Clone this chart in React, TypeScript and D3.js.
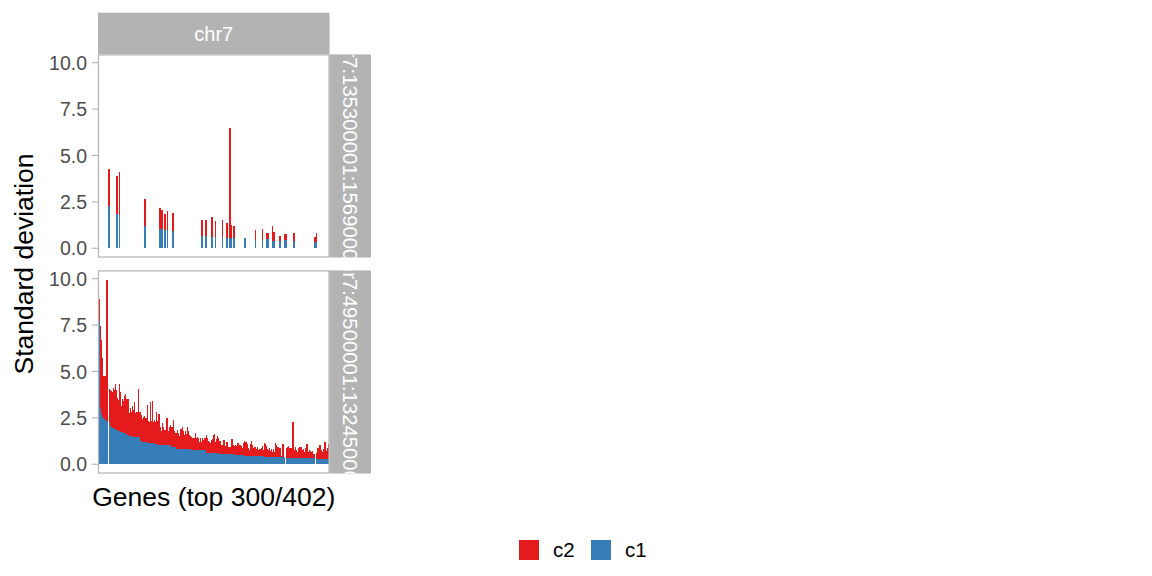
import * as d3 from "d3";

const W = 1152;
const H = 576;

// facet labels
const colLabel = "chr7";
const rowLabels = ["chr7:135300001:156900000", "chr7:49500001:132450000"];
const seriesKeys = ["c1", "c2"];
const legendKeys = ["c2", "c1"];
const yTicks = [0, 2.5, 5, 7.5, 10];

// lower facet, one entry per ranked gene
const lowerC1 = [
  7.7, 7.7, 3.02, 2.7, 2.57, 2.48, 2.43, 2.37, 2.35, 2.35,
  0, 2.21, 2.07, 2.03, 1.94, 1.94, 1.9, 1.9, 1.85, 1.85,
  1.8, 1.8, 1.76, 1.76, 1.73, 1.71, 1.69, 1.67, 1.65, 1.6,
  1.53, 1.5, 1.5, 1.5, 1.5, 1.48, 1.48, 1.47, 1.46, 1.45,
  1.45, 1.45, 1.31, 1.22, 1.22, 1.22, 1.19, 1.19, 1.19, 1.17,
  1.17, 1.17, 1.17, 1.15, 1.15, 1.13, 1.1, 1.1, 1.1, 1.08,
  1.04, 1.04, 1.04, 1.04, 1.04, 1.04, 1.04, 1.04, 1.04, 1.04,
  1.04, 1.04, 1.04, 0.95, 0.95, 0.95, 0.95, 0.95, 0.84, 0.84,
  0.84, 0.84, 0.84, 0.84, 0.84, 0.84, 0.84, 0.84, 0.84, 0.84,
  0.84, 0.84, 0.84, 0.77, 0.77, 0.77, 0.77, 0.77, 0.77, 0.77,
  0.77, 0.77, 0.77, 0.77, 0.77, 0.77, 0.77, 0.77, 0.63, 0.63,
  0.63, 0.63, 0.63, 0.63, 0.63, 0.63, 0.59, 0.59, 0.59, 0.59,
  0.56, 0.56, 0.56, 0.56, 0.56, 0.56, 0.56, 0.56, 0.56, 0.56,
  0.56, 0.56, 0.56, 0.56, 0.56, 0.56, 0.5, 0.5, 0.5, 0.5,
  0.5, 0.5, 0.5, 0.5, 0.5, 0.5, 0.45, 0.45, 0.45, 0.45,
  0.45, 0.45, 0.45, 0.45, 0.45, 0.45, 0.45, 0.45, 0.45, 0.45,
  0.45, 0.45, 0.45, 0.45, 0.45, 0.45, 0.4, 0.4, 0.4, 0.4,
  0.4, 0.4, 0.4, 0.4, 0.4, 0.4, 0.4, 0.4, 0.4, 0.4,
  0.4, 0.4, 0.4, 0.4, 0.38, 0.38, 0.38, 0, 0.32, 0.32,
  0.32, 0.32, 0.32, 0.32, 0.32, 0.32, 0.32, 0.32, 0.32, 0.32,
  0.32, 0.32, 0.32, 0.32, 0.32, 0.32, 0.32, 0.32, 0.32, 0.32,
  0.32, 0.32, 0.32, 0.32, 0.32, 0.32, 0.32, 0, 0.27, 0.27,
  0.27, 0.27, 0.27, 0.27, 0.27, 0.27, 0.27, 0.27, 0.27, 0.27,
  0.27,
];
const lowerC2 = [
  1.2, 1.2, 4.45, 3.97, 3.18, 2.25, 2.35, 2.41, 7.6, 7.6,
  0, 1.85, 1.93, 1.92, 1.96, 2.16, 2.1, 2.4, 2.15, 1.71,
  1.67, 2.5, 2.16, 1.4, 1.79, 1.71, 2.01, 2.1, 1.87, 1.92,
  1.99, 1.25, 1.52, 1.3, 1.66, 1.42, 1.9, 1.28, 1.34, 1.35,
  2.61, 1.39, 1.49, 1.44, 1.22, 1.35, 1.41, 1.31, 1.31, 2.03,
  1.17, 1.13, 2.18, 1.19, 2.25, 1.17, 1.27, 1.2, 1.7, 1.26,
  1.66, 1.66, 0.96, 0.76, 1.21, 0.96, 0.83, 0.83, 1.48, 1.46,
  0.76, 0.99, 1.06, 1.08, 1.08, 1.44, 0.85, 0.72, 0.83, 1.03,
  0.83, 0.69, 1.06, 1.06, 1.16, 0.96, 0.73, 0.96, 0.78, 1.19,
  0.96, 0.76, 0.69, 0.69, 0.66, 0.66, 0.66, 0.89, 0.66, 0.69,
  0.62, 0.45, 0.66, 0.45, 0.62, 0.53, 0.66, 0.62, 0.94, 0.8,
  0.63, 0.59, 0.5, 0.67, 0.72, 0.97, 1.05, 0.63, 0.76, 0.94,
  0.84, 0.7, 0.7, 0.48, 0.48, 0.75, 0.75, 0.43, 0.63, 0.63,
  0.39, 0.39, 0.39, 0.81, 0.81, 0.48, 0.49, 0.54, 0.49, 0.63,
  0.65, 0.52, 0.52, 0.49, 0.36, 0.65, 0.81, 0.77, 0.77, 0.65,
  0.41, 0.32, 0.65, 0.81, 0.57, 0.41, 0.5, 0.5, 0.36, 0.5,
  0.32, 0.38, 0.38, 0.4, 0.55, 0.32, 0.73, 0.7, 0.6, 0.41,
  0.37, 0.46, 0.34, 0.43, 0.28, 0.41, 0.28, 0.73, 0.64, 0.55,
  0.55, 0.46, 0.5, 0.05, 0.7, 0.7, 0.03, 0, 0.54, 0.63,
  0.67, 0.54, 0.54, 0.54, 1.98, 1.98, 0.45, 0.6, 0.45, 0.36,
  0.54, 0.6, 0.6, 0.6, 0.45, 0.49, 0.36, 0.54, 0.76, 0.76,
  0.36, 0.45, 0.42, 0.36, 0.42, 0.24, 0.24, 0, 0.36, 0.59,
  0.59, 0.77, 0.77, 0.5, 0.41, 0.54, 0.95, 0.95, 0.47, 0.59,
  0.83,
];

// upper facet: rank of each gene plus its values
const upperRank = [
  10, 11, 18, 19, 21, 46, 47, 61, 62, 63, 64, 66, 67, 69, 74, 75, 103, 104, 107, 108,
  113, 114, 117, 124, 128, 129, 131, 132, 133, 135, 136, 146, 147, 157, 164, 168, 169,
  170, 174, 175, 176, 181, 182, 186, 187, 188, 195, 196, 216, 217, 218,
];
const upperC1 = [
  2.3, 2.3, 1.87, 1.87, 1.79, 1.22, 1.22, 1.04, 1.04, 1.04, 1.04, 0.99, 0.99, 0.99, 0.93,
  0.93, 0.68, 0.68, 0.68, 0.68, 0.61, 0.61, 0.61, 0.61, 0.55, 0.55, 0.55, 0.55, 0.55, 0.55,
  0.55, 0.55, 0.55, 0.45, 0.45, 0.5, 0.5, 0.5, 0.39, 0.39, 0.39, 0.39, 0.39, 0.45, 0.45,
  0.45, 0.39, 0.39, 0.34, 0.34, 0.34,
];
const upperC2 = [
  1.97, 1.97, 2.03, 2.03, 2.32, 1.44, 1.44, 1.13, 1.13, 1.02, 1.02, 0.86, 0.86, 1.02, 0.97,
  0.97, 0.84, 0.84, 0.84, 0.84, 1.08, 1.08, 0.86, 0.91, 0.81, 0.81, 5.93, 5.93, 0.7, 0.65,
  0.65, 0, 0, 0.54, 0.59, 0.32, 0.32, 0.32, 0.81, 0.49, 0.49, 0.27, 0.27, 0.32, 0.32, 0.32,
  0.43, 0.43, 0.27, 0.27, 0.48,
];

const colors: Record<string, string> = { c2: "#E41A1C", c1: "#377EB8" };
const grey70 = "#B3B3B3";
const font = "'Liberation Sans', Arial, Helvetica, sans-serif";

type Row = { rank: number; c1: number; c2: number };

const upperRows: Row[] = upperRank.map((r, i) => ({ rank: r, c1: upperC1[i], c2: upperC2[i] }));
const lowerRows: Row[] = lowerC1.map((v, i) => ({ rank: i, c1: v, c2: lowerC2[i] }));

// layout
const px0 = 98;
const px1 = 329.5;
const stripTop = 12.7;
const panels = [
  { y0: 54.4, y1: 257.5, rows: upperRows, label: rowLabels[0] },
  { y0: 270.4, y1: 473.5, rows: lowerRows, label: rowLabels[1] },
];
const stripRightW = 41.5;

const nGenes = lowerC1.length;
const x = d3.scaleLinear().domain([0, nGenes]).range([px0, 329]);
const ymax = d3.max([...upperRows, ...lowerRows], (d) => d.c1 + d.c2) ?? 10;
const ydom: [number, number] = [-0.05 * ymax, ymax * 1.05];

const stack = d3.stack<Row>().keys(seriesKeys);

function Panel({ p, idx }: { p: (typeof panels)[number]; idx: number }) {
  const y = d3.scaleLinear().domain(ydom).range([p.y1, p.y0]);
  const layers = stack(p.rows);
  const cx = px1 + stripRightW / 2;
  const cy = (p.y0 + p.y1) / 2;
  return (
    <g>
      <rect x={px0} y={p.y0} width={px1 - px0} height={p.y1 - p.y0} fill="#fff" />
      <g shapeRendering="crispEdges">
        {layers.map((layer) =>
          layer.map((d) => {
            const h = y(d[0]) - y(d[1]);
            if (h <= 0) return null;
            return (
              <rect
                key={layer.key + d.data.rank}
                x={x(d.data.rank)}
                width={x(d.data.rank + 1) - x(d.data.rank)}
                y={y(d[1])}
                height={h}
                fill={colors[layer.key]}
              />
            );
          })
        )}
      </g>
      <rect
        x={px0 + 0.5}
        y={p.y0 + 0.5}
        width={px1 - px0 - 1}
        height={p.y1 - p.y0 - 1}
        fill="none"
        stroke={grey70}
        strokeWidth={1.2}
      />
      {yTicks.map((t) => (
        <g key={t}>
          <line x1={92} x2={px0} y1={y(t)} y2={y(t)} stroke={grey70} strokeWidth={1.1} />
          <text
            x={87}
            y={y(t)}
            dy="0.36em"
            textAnchor="end"
            fontSize={19.5}
            fill="#4D4D4D"
            fontFamily={font}
          >
            {t.toFixed(1)}
          </text>
        </g>
      ))}
      <clipPath id={`strip-clip-${idx}`}>
        <rect x={px1} y={p.y0} width={stripRightW} height={p.y1 - p.y0} />
      </clipPath>
      <rect x={px1} y={p.y0} width={stripRightW} height={p.y1 - p.y0} fill={grey70} />
      <g clipPath={`url(#strip-clip-${idx})`}>
        <text
          transform={`translate(${cx},${cy}) rotate(90)`}
          dy="0.36em"
          textAnchor="middle"
          fontSize={20.3}
          fill="#fff"
          fontFamily={font}
        >
          {p.label}
        </text>
      </g>
    </g>
  );
}

export default function App() {
  return (
    <svg
      width={W}
      height={H}
      style={{ position: "absolute", left: 0, top: 0, background: "#fff" }}
    >
      <rect x={0} y={0} width={W} height={H} fill="#fff" />
      {/* column strip */}
      <rect x={px0} y={stripTop} width={px1 - px0} height={panels[0].y0 - stripTop} fill={grey70} />
      <text
        x={(px0 + px1) / 2}
        y={(stripTop + panels[0].y0) / 2}
        dy="0.36em"
        textAnchor="middle"
        fontSize={20}
        fill="#fff"
        fontFamily={font}
      >
        {colLabel}
      </text>

      {panels.map((p, i) => (
        <Panel key={i} p={p} idx={i} />
      ))}

      {/* axis titles */}
      <text
        transform={`translate(23,${(panels[0].y0 + panels[1].y1) / 2}) rotate(-90)`}
        dy="0.36em"
        textAnchor="middle"
        fontSize={26.5}
        fill="#000"
        fontFamily={font}
      >
        Standard deviation
      </text>
      <text
        x={(px0 + px1) / 2}
        y={506}
        textAnchor="middle"
        fontSize={26.5}
        fill="#000"
        fontFamily={font}
      >
        Genes (top 300/402)
      </text>

      {/* legend */}
      {legendKeys.map((k, i) => (
        <g key={k} transform={`translate(${519 + i * 72},540)`}>
          <rect width={20} height={20} fill={colors[k]} />
          <text x={34} y={10} dy="0.36em" fontSize={20.5} fill="#000" fontFamily={font}>
            {k}
          </text>
        </g>
      ))}
    </svg>
  );
}
